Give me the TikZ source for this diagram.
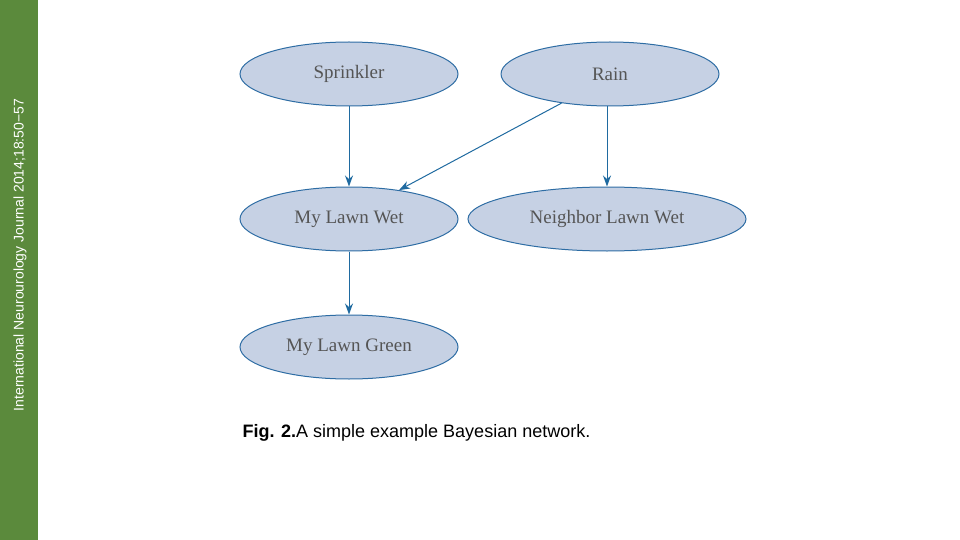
\documentclass[tikz,border=0pt]{standalone}
\usepackage{fontspec}
\setmainfont{Liberation Serif}
\setsansfont{Liberation Sans}
\usetikzlibrary{shapes.geometric,arrows.meta}
\definecolor{side}{HTML}{5B8A3C}
\definecolor{efill}{HTML}{C6D1E4}
\definecolor{edge}{HTML}{2E6DA4}
\definecolor{arr}{HTML}{1F6AA0}
\definecolor{txt}{HTML}{555555}
\begin{document}
\begin{tikzpicture}[x=1pt,y=-1pt,
 nd/.style={ellipse,draw=edge,fill=efill,line width=1pt,inner sep=0pt,text=txt,font=\fontsize{19}{19}\selectfont},
 ar/.style={draw=arr,line width=1pt,-{Stealth[length=11pt,width=8pt]}}]
\useasboundingbox (0,0) rectangle (960,540);
\fill[side] (0,0) rectangle (38,540);
\node[rotate=90,text=white,font=\sffamily\fontsize{14}{14}\selectfont] (side) at (20,255) {International Neurourology Journal 2014;18:50−57};
\node[nd,minimum width=218pt,minimum height=64pt] (s) at (349,74) {Sprinkler};
\node[nd,minimum width=218pt,minimum height=64pt] (r) at (610,74) {Rain};
\node[nd,minimum width=218pt,minimum height=64pt] (w) at (349,219) {My Lawn Wet};
\node[nd,minimum width=278pt,minimum height=64pt] (n) at (607,219) {Neighbor Lawn Wet};
\node[nd,minimum width=218pt,minimum height=64pt] (g) at (349,347) {My Lawn Green};
\draw[ar] (s) -- (w);
\draw[ar] (r.211) -- (w.30);
\draw[ar] (r.south -| n.north) -- (n.north);
\draw[ar] (w) -- (g);
\node[anchor=west,font=\sffamily\fontsize{18}{18}\selectfont] (cap) at (239,433) {\textbf{Fig. 2.}A simple example Bayesian network.};
\end{tikzpicture}
\end{document}
